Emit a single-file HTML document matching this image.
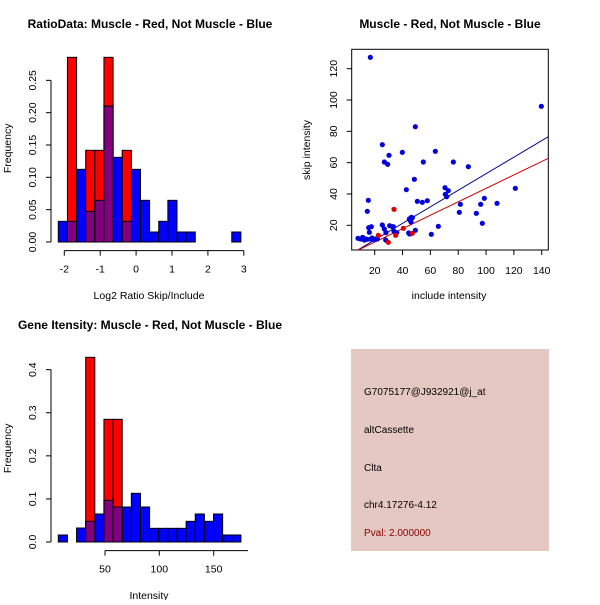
<!DOCTYPE html>
<html><head><meta charset="utf-8"><style>
body{margin:0;background:#fff}
svg text{font-family:"Liberation Sans",Arial,sans-serif;fill:#000}
</style></head><body>
<svg id="s" width="600" height="600" viewBox="0 0 600 600" xmlns="http://www.w3.org/2000/svg">
<rect width="600" height="600" fill="#fff"/>
<text x="150" y="28" font-size="12" font-weight="bold" text-anchor="middle">RatioData: Muscle - Red, Not Muscle - Blue</text>
<text x="450" y="28" font-size="12" font-weight="bold" text-anchor="middle">Muscle - Red, Not Muscle - Blue</text>
<text x="150" y="329" font-size="12" font-weight="bold" text-anchor="middle">Gene Itensity: Muscle - Red, Not Muscle - Blue</text>
<g id="h1"></g><g id="h2"></g><g id="sc"></g>
<rect x="351" y="349" width="198" height="202" fill="#e5c8c2"/>
<g font-size="10">
<text x="364" y="395">G7075177@J932921@j_at</text>
<text x="364" y="433">altCassette</text>
<text x="364" y="471">Clta</text>
<text x="364" y="508">chr4.17276-4.12</text>
<text x="364" y="536" style="fill:#8b0000">Pval: 2.000000</text>
</g>
</svg>
<script>
const NS="http://www.w3.org/2000/svg";
function el(p,t,a,txt){const e=document.createElementNS(NS,t);for(const k in a)e.setAttribute(k,a[k]);if(txt!==undefined)e.textContent=txt;p.appendChild(e);return e;}
function hist(g,oy,blue,red,ylabs,yl0,ylTop,xt,xlab,axisX1,axisX2){
  const edges=[];for(let k=0;k<=20;k++)edges.push(58.3+9.13*k);
  const base=oy+606/3;
  blue.forEach((zy,i)=>{if(zy>=606)return;const y=oy+zy/3;el(g,'rect',{x:edges[i],y:y,width:edges[i+1]-edges[i],height:base-y,fill:'#0000ff',stroke:'#000','stroke-width':1});});
  red.forEach((zy,i)=>{if(zy===null)return;const y=oy+zy/3;el(g,'rect',{x:edges[i],y:y,width:edges[i+1]-edges[i],height:base-y,fill:'#ff0000',stroke:'#000','stroke-width':1});
    const by=oy+blue[i]/3;if(blue[i]<606)el(g,'rect',{x:edges[i],y:by,width:edges[i+1]-edges[i],height:base-by,fill:'#800080',stroke:'#000','stroke-width':1});});
  const ys=ylabs.map((l,i)=>base+(ylTop-base)*i/(ylabs.length-1));
  el(g,'line',{x1:51,y1:base,x2:51,y2:ylTop,stroke:'#000'});
  ylabs.forEach((l,i)=>{el(g,'line',{x1:46,y1:ys[i],x2:51,y2:ys[i],stroke:'#000'});
    el(g,'text',{x:0,y:0,'font-size':10.5,'text-anchor':'middle',transform:`translate(36,${ys[i]}) rotate(-90)`},l);});
  const ay=oy+632/3;
  el(g,'line',{x1:axisX1,y1:ay,x2:axisX2,y2:ay,stroke:'#000'});
  xt.forEach(([x,l])=>{el(g,'line',{x1:x,y1:ay,x2:x,y2:ay+5,stroke:'#000'});el(g,'text',{x:x,y:ay+22,'font-size':10.5,'text-anchor':'middle'},l);});
  el(g,'text',{x:149,y:oy+765/3+4,'font-size':10.5,'text-anchor':'middle'},xlab);
  el(g,'text',{x:0,y:0,'font-size':10.5,'text-anchor':'middle',transform:`translate(11,${oy+325/3}) rotate(-90)`},'Frequency');
}
const N=606;
hist(document.getElementById('h1'),40,
 [544,544,388,514,481,198,352,544,388,481,576,544,481,576,576,N,N,N,N,576],
 [null,52,null,331,331,52,null,331],
 ['0.00','0.05','0.10','0.15','0.20','0.25'],0,40+121/3,
 [[64.3,'-2'],[100.2,'-1'],[136.1,'0'],[172,'1'],[207.9,'2'],[243.8,'3']],'Log2 Ratio Skip/Include',64.3,243.8);
hist(document.getElementById('h2'),340,
 [585,N,564,544,522,481,501,501,460,501,565,565,565,565,544,522,544,522,585,585],
 [null,null,null,52,null,238,238],
 ['0.0','0.1','0.2','0.3','0.4'],0,340+89/3,
 [[105,'50'],[159.3,'100'],[213.7,'150']],'Intensity',105,248);
const sc=document.getElementById('sc');
el(sc,'rect',{x:351.7,y:49.3,width:196.6,height:200.7,fill:'none',stroke:'#000'});
[[20,'20'],[40,'40'],[60,'60'],[80,'80'],[100,'100'],[120,'120'],[140,'140']].forEach(([v,l])=>{const x=374.7+(v-20)*1.392;el(sc,'line',{x1:x,y1:250,x2:x,y2:255,stroke:'#000'});el(sc,'text',{x:x,y:274,'font-size':10.5,'text-anchor':'middle'},l);});
[20,40,60,80,100,120].forEach(v=>{const y=225.3-(v-20)*1.566;el(sc,'line',{x1:346.7,y1:y,x2:351.7,y2:y,stroke:'#000'});el(sc,'text',{x:0,y:0,'font-size':10.5,'text-anchor':'middle',transform:`translate(337,${y}) rotate(-90)`},String(v));});
el(sc,'text',{x:449,y:299,'font-size':10.5,'text-anchor':'middle'},'include intensity');
el(sc,'text',{x:0,y:0,'font-size':10.5,'text-anchor':'middle',transform:`translate(310,150) rotate(-90)`},'skip intensity');
const cp=el(sc,'clipPath',{id:'cp'});el(cp,'rect',{x:351.7,y:49.3,width:196.6,height:200.7});
const lg=el(sc,'g',{'clip-path':'url(#cp)'});
el(lg,'line',{x1:290+200/3,y1:40+632/3,x2:290+775/3,y2:40+290/3,stroke:'#00008b'});
el(lg,'line',{x1:290+205/3,y1:40+630/3,x2:290+775/3,y2:40+355/3,stroke:'#cd0000'});
const blue=[[204,595],[212,597],[218,592],[226,597],[223,600],[232,598],[241,52],[235,481],[232,514],[236,563],[238,577],[244,560],[243,597],[246,594],[250,598],[255,598],[258,597],[262,597],[277,314],[277,555],[283,366],[283,567],[288,578],[287,600],[293,373],[297,346],[299,557],[310,560],[312,574],[307,560],[320,578],[337,337],[349,449],[356,579],[358,537],[360,540],[363,546],[364,532],[367,533],[373,418],[376,260],[376,571],[382,484],[397,487],[400,366],[412,482],[424,583],[436,334],[445,559],[465,443],[466,463],[470,470],[475,452],[490,366],[508,517],[511,493],[535,380],[559,520],[572,493],[577,550],[583,475],[621,490],[676,445],[754,199],[359,582]];
blue.forEach(([x,y])=>el(sc,'circle',{cx:290+x/3,cy:40+y/3,r:2.6,fill:'#0000dd'}));
[[265,586],[295,607],[312,508],[317,586],[340,565],[367,580]].forEach(([x,y])=>el(sc,'circle',{cx:290+x/3,cy:40+y/3,r:2.6,fill:'#dd0000'}));
</script>
</body></html>
